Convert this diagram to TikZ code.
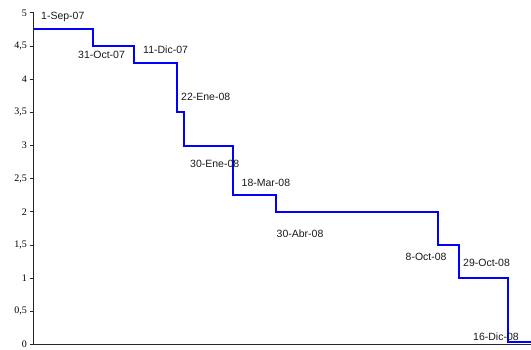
\documentclass[tikz,border=0pt]{standalone}
\usepackage{fontspec}
\setmainfont{Liberation Serif}
\setsansfont{Liberation Sans}
\begin{document}
\begin{tikzpicture}[x=1pt,y=1pt,
  axisline/.style={draw=black!85,line width=1pt},
  steplinestyle/.style={draw=blue,line width=1.8pt,line join=miter},
  ylab/.style={font=\fontsize{10}{11}\selectfont\rmfamily,anchor=east,inner sep=0pt},
  datelab/.style={font=\fontsize{10.5}{11}\selectfont\sffamily,anchor=west,inner sep=0pt,text=black!90}]
\useasboundingbox (0,0) rectangle (531,349);
% axes
\coordinate (o) at (33.5,4.5);
\coordinate (top) at (33.5,336.2);
\coordinate (xr) at (531,4.5);
\draw[axisline] (top) -- (o) -- (xr);
\foreach \v/\t [count=\i] in {0/0,0.5/{0,5},1/1,1.5/{1,5},2/2,2.5/{2,5},3/3,3.5/{3,5},4/4,4.5/{4,5},5/5}{
  \coordinate (tk\i) at (33.5,4.5+66.33*\v);
  \draw[axisline] (tk\i) -- ++(-4,0);
  \node[ylab] (yl\i) at (27,4.5+66.33*\v) {\t};
}
% step line (pixel coordinates, y measured from the bottom)
\draw[steplinestyle] (34,320) -- (93,320) -- (93,303) -- (134,303) -- (134,286)
  -- (177,286) -- (177,237) -- (184,237) -- (184,203) -- (233,203) -- (233,154)
  -- (276,154) -- (276,137) -- (438,137) -- (438,104) -- (459,104) -- (459,71)
  -- (508,71) -- (508,7) -- (531,7);
% date labels
\node[datelab] (d1) at (41,349-17) {1-Sep-07};
\node[datelab] (d2) at (78,349-55) {31-Oct-07};
\node[datelab] (d3) at (143,349-50) {11-Dic-07};
\node[datelab] (d4) at (181,349-96.7) {22-Ene-08};
\node[datelab] (d5) at (190,349-164) {30-Ene-08};
\node[datelab] (d6) at (241.5,349-183.3) {18-Mar-08};
\node[datelab] (d7) at (276.5,349-233.3) {30-Abr-08};
\node[datelab] (d8) at (405.5,349-257) {8-Oct-08};
\node[datelab] (d9) at (463,349-263) {29-Oct-08};
\node[datelab] (d10) at (473,349-336.7) {16-Dic-08};
\end{tikzpicture}
\end{document}
